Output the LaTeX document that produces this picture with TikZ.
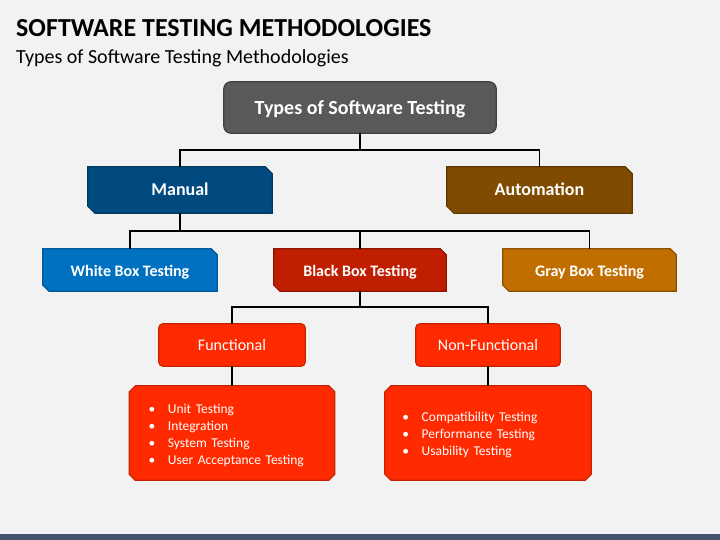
\documentclass[tikz,border=0pt]{standalone}
\usepackage{fontspec}
\setmainfont{Carlito}
\usetikzlibrary{backgrounds,calc}
\definecolor{bgc}{HTML}{F2F2F2}
\definecolor{barc}{HTML}{44546A}
\definecolor{topf}{HTML}{595959}\definecolor{topd}{HTML}{3F3F3F}
\definecolor{manf}{HTML}{004A7F}\definecolor{mand}{HTML}{003A63}
\definecolor{autf}{HTML}{7F4B00}\definecolor{autd}{HTML}{5E3700}
\definecolor{whf}{HTML}{0070C0}\definecolor{whd}{HTML}{00589A}
\definecolor{blf}{HTML}{C01E00}\definecolor{bld}{HTML}{8F1600}
\definecolor{grf}{HTML}{C06E00}\definecolor{grd}{HTML}{8C5000}
\definecolor{fnf}{HTML}{FF2A00}\definecolor{fnd}{HTML}{C82100}
\newcommand\snipTwo[3]{%
 \draw[#2] (#1.north west) -- ([xshift=-#3]#1.north east) -- ([yshift=-#3]#1.north east) -- (#1.south east) -- ([xshift=#3]#1.south west) -- ([yshift=#3]#1.south west) -- cycle;}
\newcommand\snipFour[3]{%
 \draw[#2] ([xshift=#3]#1.north west) -- ([xshift=-#3]#1.north east) -- ([yshift=-#3]#1.north east) -- ([yshift=#3]#1.south east) -- ([xshift=-#3]#1.south east) -- ([xshift=#3]#1.south west) -- ([yshift=#3]#1.south west) -- ([yshift=-#3]#1.north west) -- cycle;}
\newcommand\bul{\makebox[19.4pt][l]{•}}
\tikzset{
 lbl/.style={text=white, inner sep=0pt, align=center, text height=#1, text depth=2pt},
 lst/.style={text=white, inner sep=0pt, align=left, minimum height=94pt, font=\fontsize{13.5}{17}\selectfont},
 conn/.style={line width=1.8pt, black},
 bord/.style={line width=1.2pt},
}
\begin{document}
\begin{tikzpicture}[x=1pt,y=-1pt]
\useasboundingbox (0,0) rectangle (720,540);
\node[anchor=base west, inner sep=0pt, font=\fontsize{26}{30}\selectfont\bfseries] (title) at (16,37) {SOFTWARE TESTING METHODOLOGIES};
\node[anchor=base west, inner sep=0pt, font=\fontsize{20}{24}\selectfont] (sub) at (16,63.5) {Types of Software Testing Methodologies};

\node[lbl=15.6pt, minimum width=272pt, minimum height=51pt, font=\fontsize{20}{24}\selectfont\bfseries] (top) at (360,107.5) {Types of Software Testing};
\node[lbl=14pt, minimum width=184pt, minimum height=46pt, font=\fontsize{18}{22}\selectfont\bfseries] (man) at (180,190) {Manual};
\node[lbl=14pt, minimum width=185pt, minimum height=46pt, font=\fontsize{18}{22}\selectfont\bfseries] (aut) at (539.5,190) {Automation};
\node[lbl=14pt, minimum width=174pt, minimum height=42pt, font=\fontsize{16}{20}\selectfont\bfseries] (wh) at (130,270) {White Box Testing};
\node[lbl=14pt, minimum width=172pt, minimum height=42pt, font=\fontsize{16}{20}\selectfont\bfseries] (bl) at (360,270) {Black Box Testing};
\node[lbl=14pt, minimum width=173pt, minimum height=42pt, font=\fontsize{16}{20}\selectfont\bfseries] (gr) at (589.5,270) {Gray Box Testing};
\node[lbl=13.4pt, minimum width=146pt, minimum height=42pt, font=\fontsize{16}{20}\selectfont] (fn) at (232,345) {Functional};
\node[lbl=13.4pt, minimum width=144pt, minimum height=42pt, font=\fontsize{16}{20}\selectfont] (nf) at (488,345) {Non-Functional};
\node[lst, text width=167pt, minimum width=205pt] (l1) at (232,433)
 {\rule{0pt}{14pt}\bul Unit Testing\\\bul Integration\\\bul System Testing\\\bul User Acceptance Testing};
\node[lst, text width=171.4pt, minimum width=206pt] (l2) at (488,433)
 {\rule{0pt}{14pt}\bul Compatibility Testing\\\bul Performance Testing\\\bul Usability Testing};

\draw[conn] (top.south) -- ++(0,17) -| (man.north);
\draw[conn] (top.south) -- ++(0,17) -| (aut.north);
\draw[conn] (man.south) -- ++(0,18) -| (wh.north);
\draw[conn] (man.south) -- ++(0,18) -| (bl.north);
\draw[conn] (man.south) -- ++(0,18) -| (gr.north);
\draw[conn] (bl.south) -- ++(0,16) -| (fn.north);
\draw[conn] (bl.south) -- ++(0,16) -| (nf.north);
\draw[conn] (fn.south) -- (l1.north);
\draw[conn] (nf.south) -- (l2.north);

\begin{scope}[on background layer]
\fill[bgc] (0,0) rectangle (720,540);
\fill[barc] (0,534) rectangle (720,540);
\draw[bord, fill=topf, draw=topd, rounded corners=7pt] (top.north west) rectangle (top.south east);
\snipTwo{man}{bord, fill=manf, draw=mand}{7pt}
\snipTwo{aut}{bord, fill=autf, draw=autd}{7pt}
\snipTwo{wh}{bord, fill=whf, draw=whd}{6pt}
\snipTwo{bl}{bord, fill=blf, draw=bld}{6pt}
\snipTwo{gr}{bord, fill=grf, draw=grd}{6pt}
\draw[bord, fill=fnf, draw=fnd, rounded corners=4pt] (fn.north west) rectangle (fn.south east);
\draw[bord, fill=fnf, draw=fnd, rounded corners=4pt] (nf.north west) rectangle (nf.south east);
\snipFour{l1}{bord, fill=fnf, draw=fnd}{6pt}
\snipFour{l2}{bord, fill=fnf, draw=fnd}{6pt}
\end{scope}
\end{tikzpicture}
\end{document}
